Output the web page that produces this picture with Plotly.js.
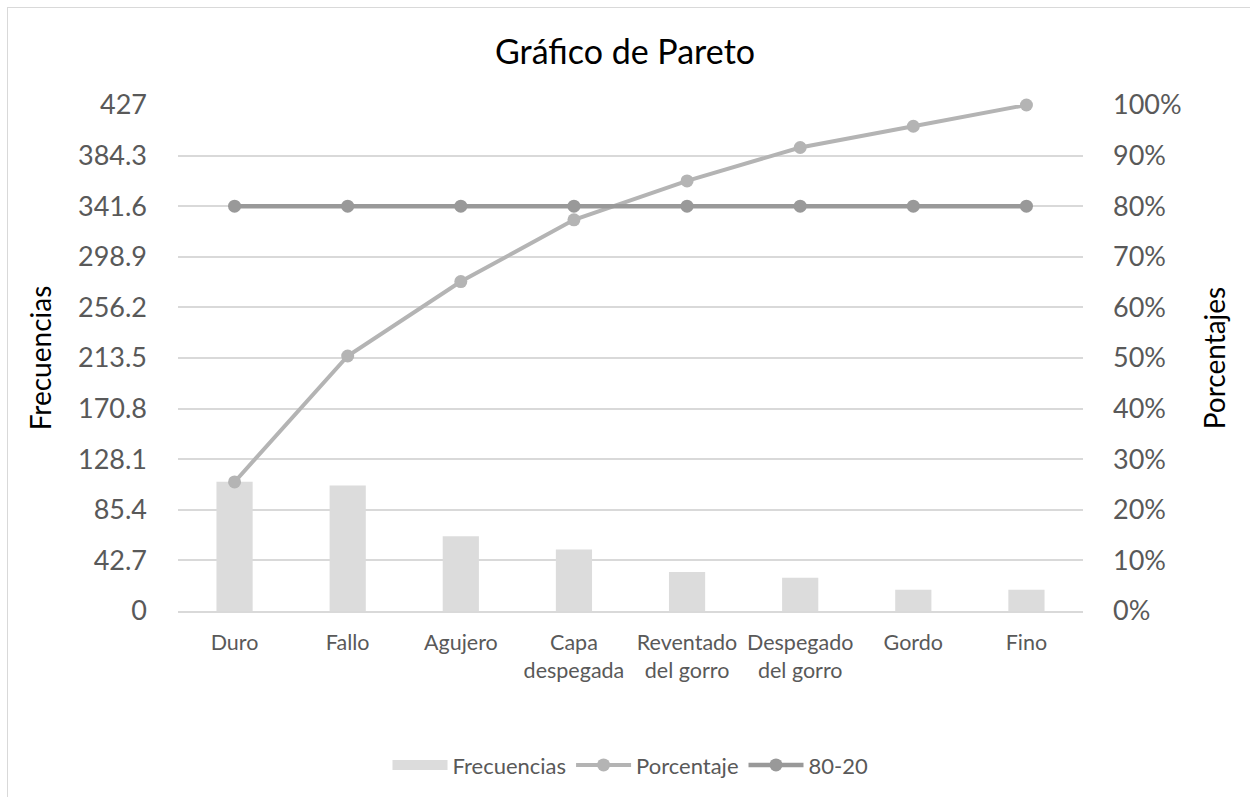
<!DOCTYPE html>
<html><head><meta charset="utf-8">
<script src="https://cdn.plot.ly/plotly-3.0.1.min.js"></script>
<style>body{margin:0;background:#fff}#wrap{position:relative;width:1250px;height:797px}#c{width:1250px;height:797px}#frame{position:absolute;left:7px;top:7px;width:1260px;height:800px;border-left:1.5px solid #d9d9d9;border-top:1.5px solid #d9d9d9;pointer-events:none}</style>
</head><body><div id="wrap"><div id="c"></div><div id="frame"></div></div>
<script>
const categories = ['Duro','Fallo','Agujero','Capa<br>despegada','Reventado<br>del gorro','Despegado<br>del gorro','Gordo','Fino'];
const frecuencias = [109,106,63,52,33,28,18,18];
const porcentaje = [25.5,50.4,65.1,77.3,85.0,91.6,95.8,100];
const linea8020 = [80,80,80,80,80,80,80,80];
const leftTicks = [0,42.7,85.4,128.1,170.8,213.5,256.2,298.9,341.6,384.3,427];
const leftTickText = ['0','42.7','85.4','128.1','170.8','213.5','256.2','298.9','341.6','384.3','427'];
const rightTicks = [0,10,20,30,40,50,60,70,80,90,100];
const rightTickText = rightTicks.map(v=>v+'%');

const font = 'Lato, "Open Sans", sans-serif';
const barColor = '#dcdcdc';
const traces = [
  {type:'bar', name:'Frecuencias', x:categories, y:frecuencias, marker:{color:barColor}, yaxis:'y', showlegend:false},
  {type:'scatter', mode:'lines', name:'Frecuencias', x:[categories[0]], y:[null], yaxis:'y',
   line:{color:barColor, width:15}, showlegend:true, hoverinfo:'skip'},
  {type:'scatter', mode:'lines+markers', name:'Porcentaje', x:categories, y:porcentaje, yaxis:'y2', cliponaxis:false,
   line:{color:'#b4b4b4', width:4}, marker:{color:'#b4b4b4', size:13}},
  {type:'scatter', mode:'lines+markers', name:'80-20', x:categories, y:linea8020, yaxis:'y2', cliponaxis:false,
   line:{color:'#999999', width:4.5}, marker:{color:'#999999', size:13}}
];
const layout = {
  width:1250, height:797,
  margin:{l:178, r:167, t:105, b:185},
  paper_bgcolor:'#fff', plot_bgcolor:'#fff',
  font:{family:font, color:'#595959'},
  title:{text:'Gráfico de Pareto', font:{family:font, size:34, color:'#000'}, x:0.5, xanchor:'center', y:0.935, yanchor:'middle'},
  bargap:0.68,
  showlegend:true,
  legend:{orientation:'h', x:0.5, xanchor:'center', y:-0.302, yanchor:'middle', font:{size:22, color:'#595959'}, itemwidth:55, traceorder:'normal'},
  xaxis:{type:'category', showgrid:false, showline:true, linecolor:'#d9d9d9', linewidth:1.5,
    tickfont:{size:21.5, color:'#595959'}, ticks:'', ticklabelstandoff:11, automargin:false},
  yaxis:{range:[0,427], tickvals:leftTicks, ticktext:leftTickText, showgrid:true, gridcolor:'#d9d9d9', gridwidth:1.5,
    zeroline:false, tickfont:{size:27, color:'#595959'}, ticklabelstandoff:30, automargin:false,
    title:{text:'Frecuencias', font:{size:28, color:'#000'}, standoff:18}},
  yaxis2:{range:[0,100], overlaying:'y', side:'right', tickvals:rightTicks, ticktext:rightTickText, showgrid:false,
    zeroline:false, tickfont:{size:27, color:'#595959'}, ticklabelstandoff:29, automargin:false,
    title:{text:'Porcentajes', font:{size:28, color:'#000'}, standoff:24}}
};
Plotly.newPlot('c', traces, layout, {displayModeBar:false});
</script></body></html>
